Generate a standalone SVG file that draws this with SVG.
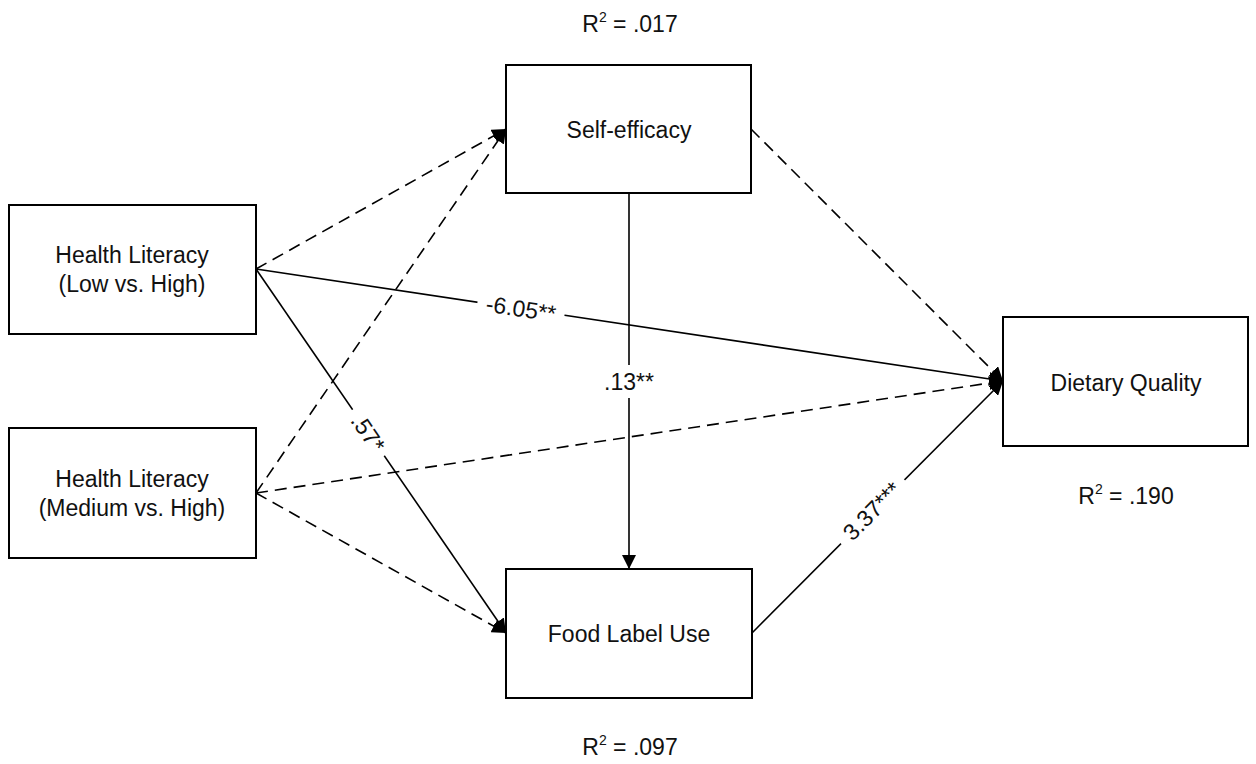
<svg xmlns="http://www.w3.org/2000/svg" width="1256" height="764" viewBox="0 0 1256 764">
<style>
.box{fill:#fff;stroke:#000;stroke-width:2}
.t{font-family:"Liberation Sans",Arial,sans-serif;font-size:23px;fill:#111;text-anchor:middle}
.c{fill:none;stroke:#000;stroke-width:1.6}
.d{stroke-dasharray:12 7}
.bg{fill:#fff}
</style>
<defs>
<marker id="ah" markerUnits="userSpaceOnUse" markerWidth="16" markerHeight="14" refX="14" refY="7" orient="auto">
<path d="M0,0 L14,7 L0,14 Z" fill="#000"/>
</marker>
</defs>
<rect width="1256" height="764" fill="#fff"/>
<g id="connectors">
<line class="c d" x1="256" y1="269" x2="506" y2="129" marker-end="url(#ah)"/>
<line class="c" x1="256" y1="269" x2="1003" y2="381" marker-end="url(#ah)"/>
<line class="c" x1="256" y1="269" x2="506" y2="633" marker-end="url(#ah)"/>
<line class="c d" x1="256" y1="493" x2="506" y2="129" marker-end="url(#ah)"/>
<line class="c d" x1="256" y1="493" x2="1003" y2="381" marker-end="url(#ah)"/>
<line class="c d" x1="256" y1="493" x2="506" y2="633" marker-end="url(#ah)"/>
<line class="c" x1="629" y1="193" x2="629" y2="569" marker-end="url(#ah)"/>
<line class="c d" x1="751" y1="129" x2="1003" y2="381" marker-end="url(#ah)"/>
<line class="c" x1="752" y1="633" x2="1003" y2="381" marker-end="url(#ah)"/>
<g transform="translate(521,308.7) rotate(8.53)">
<rect class="bg" x="-44" y="-11" width="88" height="22"/>
<text class="t" x="0" y="8">-6.05**</text>
</g>
<g transform="translate(368,433) rotate(55.5)">
<rect class="bg" x="-28" y="-11" width="56" height="22"/>
<text class="t" x="0" y="8">.57*</text>
</g>
<g transform="translate(629,381)">
<rect class="bg" x="-30" y="-16" width="60" height="33"/>
<text class="t" x="0" y="9">.13**</text>
</g>
<g transform="translate(872,511) rotate(-45.1)">
<rect class="bg" x="-45" y="-11" width="90" height="22"/>
<text class="t" x="0" y="8">3.37***</text>
</g>
</g>
<g id="self-efficacy">
<rect class="box" x="506" y="65" width="245" height="128"/>
<text class="t" x="629" y="138">Self-efficacy</text>
<text class="t" x="630" y="32">R<tspan font-size="14" dy="-10">2</tspan><tspan dy="10"> = .017</tspan></text>
</g>
<g id="hl-low">
<rect class="box" x="9" y="205" width="247" height="129"/>
<text class="t" x="132" y="263">Health Literacy</text>
<text class="t" x="132" y="292">(Low vs. High)</text>
</g>
<g id="hl-medium">
<rect class="box" x="9" y="428" width="247" height="130"/>
<text class="t" x="132" y="487">Health Literacy</text>
<text class="t" x="132" y="516">(Medium vs. High)</text>
</g>
<g id="dietary-quality">
<rect class="box" x="1003" y="317" width="245" height="129"/>
<text class="t" x="1126" y="391">Dietary Quality</text>
<text class="t" x="1126" y="504">R<tspan font-size="14" dy="-10">2</tspan><tspan dy="10"> = .190</tspan></text>
</g>
<g id="food-label-use">
<rect class="box" x="506" y="569" width="246" height="129"/>
<text class="t" x="629" y="642">Food Label Use</text>
<text class="t" x="630" y="755">R<tspan font-size="14" dy="-10">2</tspan><tspan dy="10"> = .097</tspan></text>
</g>
</svg>
